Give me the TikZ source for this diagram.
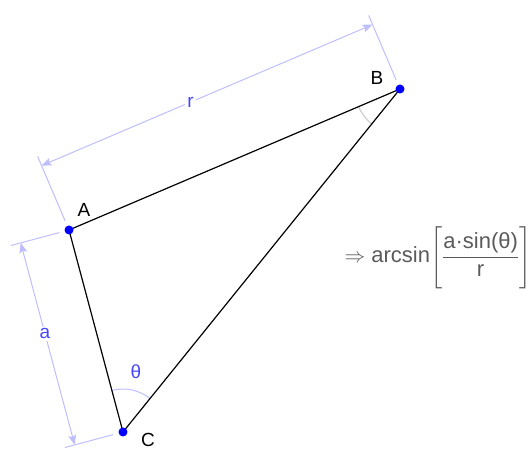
\documentclass[tikz,border=0pt]{standalone}
\usepackage{amsmath}
\usepackage{fontspec}
\setmainfont{Liberation Sans}
\usetikzlibrary{arrows.meta,calc,angles}
\definecolor{dimblue}{RGB}{190,190,255}
\definecolor{lblblue}{RGB}{70,70,255}
\definecolor{ptblue}{RGB}{0,0,255}
\definecolor{fmgray}{RGB}{90,90,90}
\tikzset{
  vtx/.style={circle,fill=ptblue,inner sep=0pt,minimum size=9pt},
  vlbl/.style={font=\fontsize{19}{21}\selectfont,text=black},
  side/.style={black,line width=1.2pt},
  dim/.style={dimblue,line width=1pt,
              {Stealth[length=10pt,width=8pt,inset=2pt]}-{Stealth[length=10pt,width=8pt,inset=2pt]}},
  ext/.style={dimblue,line width=1pt},
  dlbl/.style={fill=white,inner sep=2pt,text=lblblue,font=\fontsize{19}{21}\selectfont},
}

\begin{document}
\begin{tikzpicture}[x=1pt,y=1pt]
  \useasboundingbox (0,0) rectangle (531,450);
  % vertices
  \coordinate (A) at (69,220);
  \coordinate (B) at (400,361);
  \coordinate (C) at (123,18);
  % dimension r
  \coordinate (rA) at ($(A)!70pt!90:(B)$);
  \coordinate (rB) at ($(B)!70pt!-90:(A)$);
  \coordinate (eA1) at ($(A)!10pt!90:(B)$);
  \coordinate (eA2) at ($(A)!80pt!90:(B)$);
  \coordinate (eB1) at ($(B)!10pt!-90:(A)$);
  \coordinate (eB2) at ($(B)!80pt!-90:(A)$);
  \draw[ext] (eA1) -- (eA2);
  \draw[ext] (eB1) -- (eB2);
  \draw[dim] (rA) -- node[dlbl,pos=0.45] (lr) {r} (rB);
  % dimension a
  \coordinate (aA) at ($(A)!50pt!-90:(C)$);
  \coordinate (aC) at ($(C)!50pt!90:(A)$);
  \coordinate (fA1) at ($(A)!10pt!-90:(C)$);
  \coordinate (fA2) at ($(A)!60pt!-90:(C)$);
  \coordinate (fC1) at ($(C)!10pt!90:(A)$);
  \coordinate (fC2) at ($(C)!60pt!90:(A)$);
  \draw[ext] (fA1) -- (fA2);
  \draw[ext] (fC1) -- (fC2);
  \draw[dim] (aA) -- node[dlbl,pos=0.45] (la) {a} (aC);
  % angles
  \pic[draw=dimblue,line width=1pt,angle radius=43pt] {angle=B--C--A};
  \pic[draw=black!22,line width=1pt,angle radius=45pt] {angle=A--B--C};
  \node[dlbl,fill=none] (lth) at ($(C)+(78:62pt)$) {θ};
  % triangle
  \draw[side] (A) -- (B) -- (C) -- cycle;
  \node[vtx] (pA) at (A) {};
  \node[vtx] (pB) at (B) {};
  \node[vtx] (pC) at (C) {};
  \node[vlbl] (lA) at ($(A)+(15,20)$) {A};
  \node[vlbl] (lB) at ($(B)+(-23,11)$) {B};
  \node[vlbl] (lC) at ($(C)+(25,-8)$) {C};
  % formula
  \node[anchor=west,text=fmgray,font=\fontsize{22}{26}\selectfont] (frm) at (341,192.5)
    {$\Rightarrow$ arcsin$\left[\rule[-26pt]{0pt}{62pt}\dfrac{\text{a·sin(θ)}}{\text{r}}\right]$};
\end{tikzpicture}
\end{document}
